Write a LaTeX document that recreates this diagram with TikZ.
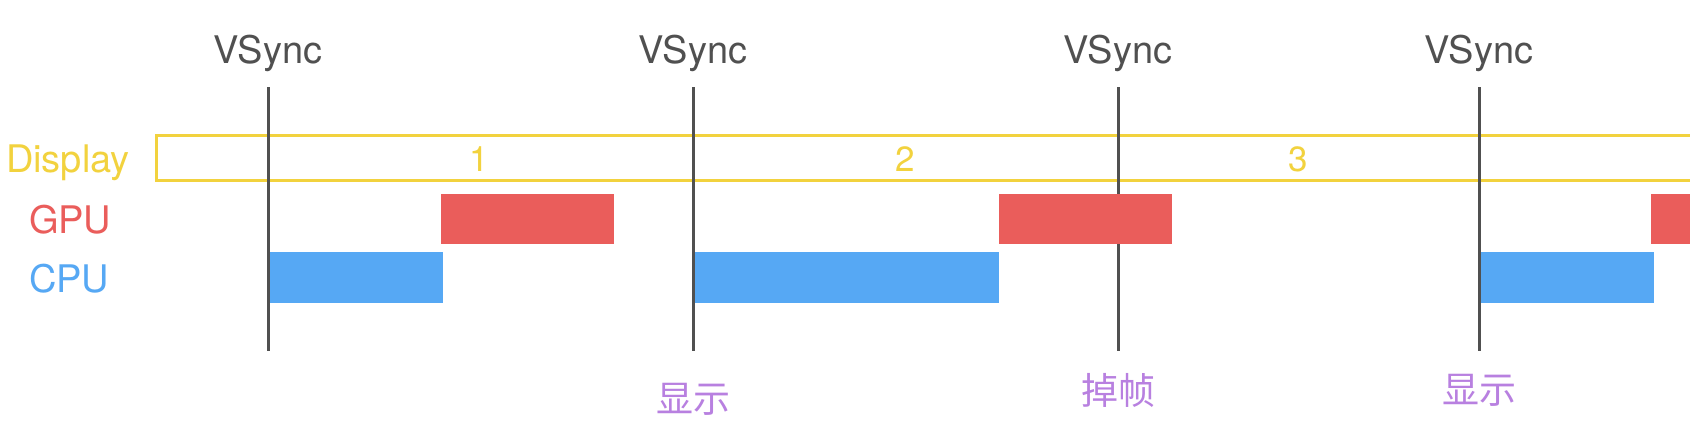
\documentclass[tikz,border=0pt]{standalone}
\usepackage{fontspec}
\setmainfont{TeX Gyre Heros}
\newfontfamily\cjk{Noto Sans CJK SC}
\definecolor{vgray}{HTML}{505050}
\definecolor{dyellow}{HTML}{F2D23E}
\definecolor{gred}{HTML}{EA5D5B}
\definecolor{cblue}{HTML}{56A8F4}
\definecolor{lpurple}{HTML}{B880E0}
\begin{document}
\begin{tikzpicture}[x=1pt,y=-1pt,
  every node/.style={inner sep=0pt, outer sep=0pt},
  big/.style={font=\fontsize{38}{42}\selectfont},
  vsynctext/.style={big, text=vgray, anchor=base},
  vline/.style={draw=vgray, line width=3pt},
  dispbox/.style={draw=dyellow, line width=3pt},
  numtext/.style={font=\fontsize{35}{38}\selectfont, text=dyellow, anchor=base},
  gpubar/.style={fill=gred, draw=none},
  cpubar/.style={fill=cblue, draw=none},
  marktext/.style={font=\fontsize{37}{40}\selectfont\cjk, text=lpurple, anchor=center},
]
\useasboundingbox (0,0) rectangle (1690,440);
\fill[white] (0,0) rectangle (1690,440);

% row labels
\node[big, text=dyellow, anchor=base west] (lblDisplay) at (6,172) {Display};
\node[big, text=gred, anchor=base west] (lblGPU) at (29,233) {GPU};
\node[big, text=cblue, anchor=base west] (lblCPU) at (29,292) {CPU};

% display band
\draw[dispbox] (156,135.5) rectangle (1710,180.5);
\node[numtext] (n1) at (479,171) {1};
\node[numtext] (n2) at (905,171) {2};
\node[numtext] (n3) at (1298,171) {3};

% vsync lines
\foreach \i/\x in {1/268,2/693,3/1118,4/1479}{
  \node[vsynctext] (vs\i) at (\x,63) {VSync};
  \coordinate (vt\i) at (\x,87);
  \coordinate (vb\i) at (\x,351);
  \draw[vline] (vt\i) -- (vb\i);
}

% GPU bars
\fill[gpubar] (441,194) rectangle (614,244);
\fill[gpubar] (999,194) rectangle (1172,244);
\fill[gpubar] (1651,194) rectangle (1700,244);

% CPU bars
\fill[cpubar] (269.5,252) rectangle (443,303);
\fill[cpubar] (694.5,252) rectangle (999,303);
\fill[cpubar] (1480.5,252) rectangle (1654,303);

% bottom marks
\node[marktext] (m1) at (693,399) {显示};
\node[marktext] (m2) at (1118,390) {掉帧};
\node[marktext] (m3) at (1479,390) {显示};
\end{tikzpicture}
\end{document}
